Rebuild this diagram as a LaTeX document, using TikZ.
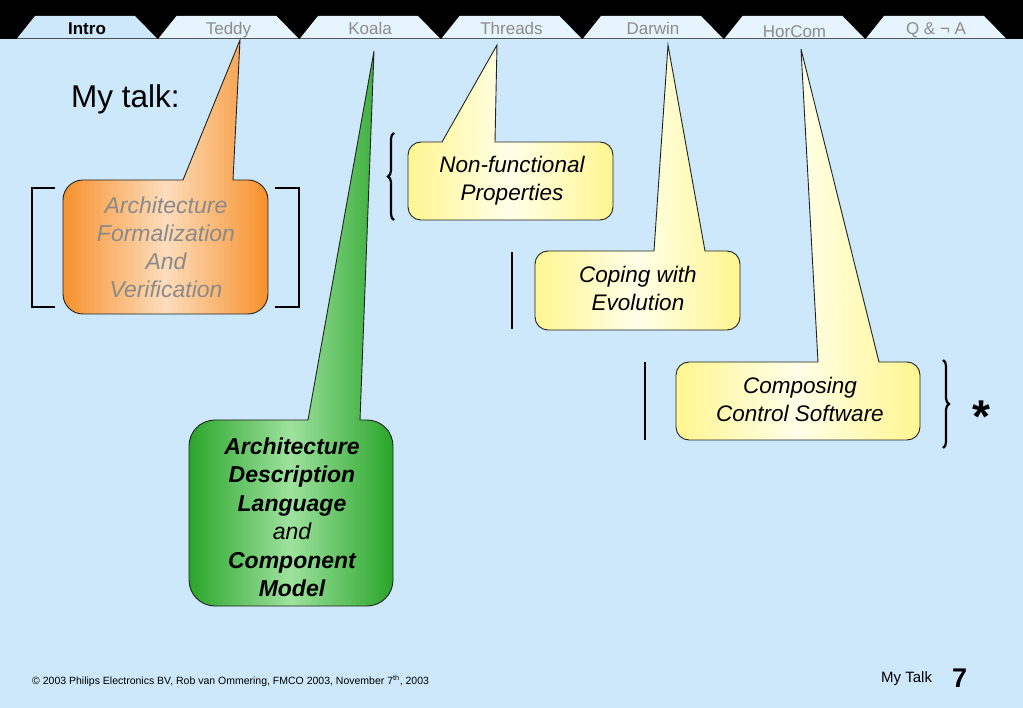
\documentclass[tikz,border=0pt]{standalone}
\usepackage{fontspec}
\setmainfont{Liberation Sans}
\usetikzlibrary{decorations.pathreplacing}
\definecolor{bg}{HTML}{CCE8FA}
\definecolor{tabc}{HTML}{E6F4FD}
\definecolor{tabtxt}{HTML}{8C8C8C}
\definecolor{orE}{HTML}{F7912C}
\definecolor{orM}{HTML}{FDDDBD}
\definecolor{grE}{HTML}{2AA52A}
\definecolor{grM}{HTML}{9EE29E}
\definecolor{yeE}{HTML}{FFF590}
\definecolor{yeM}{HTML}{FFFFE8}
\definecolor{outl}{HTML}{222222}
\definecolor{graytxt}{HTML}{8A8A8A}
% #1 L, #2 T, #3 R, #4 B, #5 radius, #6 pointer left, #7 pointer right, #8 tip
\newcommand\calloutpath[8]{%
  (#1+#5,#2) -- (#6,#2) -- (#8) -- (#7,#2) -- (#3-#5,#2)
    arc[start angle=-90,end angle=0,radius=#5] -- (#3,#4-#5)
    arc[start angle=0,end angle=90,radius=#5] -- (#1+#5,#4)
    arc[start angle=90,end angle=180,radius=#5] -- (#1,#2+#5)
    arc[start angle=180,end angle=270,radius=#5] -- cycle}
% #1 colour prefix, #2 L, #3 T, #4 R, #5 B, #6 radius, #7 pl, #8 pr, #9 tip
\newcommand\mycallout[9]{%
  \begin{scope}
    \clip \calloutpath{#2}{#3}{#4}{#5}{#6}{#7}{#8}{#9};
    \pgfmathsetmacro\cw{(#4-#2)/80}
    \foreach \k in {0,...,79}{
      \pgfmathsetmacro\cd{int(round(100*abs(2*(\k+0.5)/80-1)))}
      \fill[#1E!\cd!#1M] (#2+\k*\cw,0) rectangle (#2+\k*\cw+\cw+0.6,#5+2);
    }
  \end{scope}
  \draw[draw=outl,line width=0.9pt] \calloutpath{#2}{#3}{#4}{#5}{#6}{#7}{#8}{#9};}
\begin{document}
\begin{tikzpicture}[x=1pt,y=-1pt,
  tabtext/.style={inner sep=0pt,anchor=base,font=\fontsize{17}{20}\selectfont,text=tabtxt},
  txt/.style={inner sep=0pt,anchor=base},
  orangetxt/.style={txt,text=graytxt,font=\fontsize{23}{28}\selectfont\itshape},
  greentxt/.style={txt,font=\fontsize{23}{28}\selectfont\bfseries\itshape},
  greenplain/.style={txt,font=\fontsize{23}{28}\selectfont\itshape},
  yellowtxt/.style={txt,font=\fontsize{22.5}{27}\selectfont\itshape},
  bracket/.style={line width=2.6pt,black},
  curly/.style={line width=2.2pt,black,decorate,decoration={brace,amplitude=6pt}}]
\useasboundingbox (0,0) rectangle (1023,708);
\fill[bg] (0,0) rectangle (1023,708);
\fill[black] (0,0) rectangle (1023,39.5);
% tabs
\fill[bg] (17,38.5) -- (35,16) -- (135,16) -- (157,38.5) -- cycle;
\node[txt,font=\fontsize{17}{20}\selectfont\bfseries] (tab0) at (87,35) {Intro};
\foreach \i/\t/\yy in {1/Teddy/35,2/Koala/35,3/Threads/35,4/Darwin/35,5/HorCom/37.5,6/{Q \& ¬ A}/35}{
  \pgfmathsetmacro\b{17+141.5*\i}
  \fill[tabc] (\b,38.5) -- (\b+18,16) -- (\b+118,16) -- (\b+140,38.5) -- cycle;
  \node[tabtext] (tab\i) at (\b+70,\yy) {\t};
}
% title
\node[txt,anchor=base west,font=\fontsize{31.5}{36}\selectfont] (title) at (71,108) {My talk:};
% brackets and bars
\draw[bracket] (55,188) -- (32,188) -- (32,307) -- (55,307);
\draw[bracket] (275,188) -- (299,188) -- (299,307) -- (275,307);
\draw[bracket] (512,252) -- (512,329);
\draw[bracket] (645,362) -- (645,440);
\draw[curly] (394,220) -- (394,133);
\draw[curly] (943,360) -- (943,448);
% callouts
\mycallout{or}{63}{180}{268}{314}{20}{183}{233}{240,40}
\mycallout{gr}{189}{420}{393}{606}{26}{308}{360}{374,51}
\mycallout{ye}{408}{142}{613}{220}{13}{442}{495}{497,45}
\mycallout{ye}{535}{251}{740}{330}{13}{654}{705}{668,45}
\mycallout{ye}{676}{362}{920}{440}{13}{818}{879}{801,49}
% orange text
\node[orangetxt] (o1) at (166,214) {Architecture};
\node[orangetxt] (o2) at (166,242) {Formalization};
\node[orangetxt] (o3) at (166,270) {And};
\node[orangetxt] (o4) at (166,298) {Verification};
% green text
\node[greentxt] (g1) at (292,454) {Architecture};
\node[greentxt] (g2) at (292,482.5) {Description};
\node[greentxt] (g3) at (292,511) {Language};
\node[greenplain] (g4) at (292,539.5) {and};
\node[greentxt] (g5) at (292,568) {Component};
\node[greentxt] (g6) at (292,596.5) {Model};
% yellow text
\node[yellowtxt] (y1) at (512,173) {Non-functional};
\node[yellowtxt] (y2) at (512,201) {Properties};
\node[yellowtxt] (y3) at (638,283) {Coping with};
\node[yellowtxt] (y4) at (638,311) {Evolution};
\node[yellowtxt] (y5) at (800,394) {Composing};
\node[yellowtxt] (y6) at (800,422) {Control Software};
% star
\node[txt,font=\fontsize{46}{50}\selectfont\bfseries] (star) at (981,432) {*};
% footer
\node[txt,anchor=base west,font=\fontsize{10.5}{12}\selectfont] (foot) at (32,684) {© 2003 Philips Electronics BV, Rob van Ommering, FMCO 2003, November 7\textsuperscript{th}, 2003};
\node[txt,anchor=base west,font=\fontsize{15}{18}\selectfont] (mytalk) at (881,682) {My Talk};
\node[txt,anchor=base west,font=\fontsize{27}{30}\selectfont\bfseries] (pnum) at (952,687) {7};
\end{tikzpicture}
\end{document}
